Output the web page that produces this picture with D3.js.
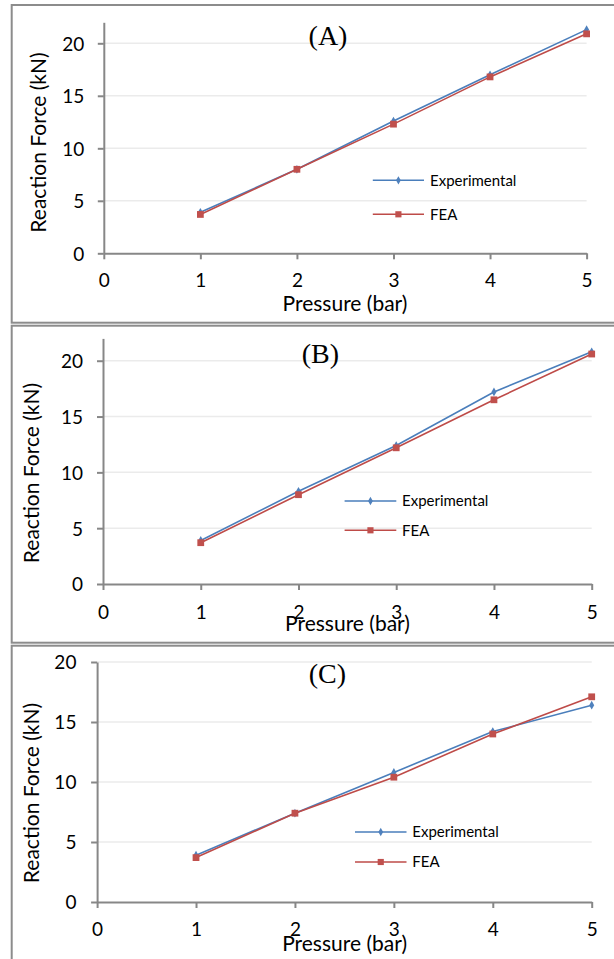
<html>
<head>
<meta charset="utf-8">
<script src="https://d3js.org/d3.v7.min.js"></script>
<style>
body {
	margin: 0;
	background: #fff;
}
svg text {
	font-family: Lato, "Open Sans", sans-serif;
	fill: #000;
}
</style>
</head>
<body>

<svg id="chart" width="614" height="959"></svg>

<script>

var pressure = [1, 2, 3, 4, 5]
var xTicks = [0, 1, 2, 3, 4, 5]
var yTicks = [0, 5, 10, 15, 20]
var seriesNames = ["Experimental", "FEA"]
var panelNames = ["(A)", "(B)", "(C)"]

var expA = [3.9, 8.0, 12.6, 17.0, 21.3]
var feaA = [3.7, 8.0, 12.3, 16.8, 20.9]
var expB = [3.9, 8.3, 12.4, 17.2, 20.8]
var feaB = [3.7, 8.0, 12.2, 16.5, 20.6]
var expC = [3.9, 7.4, 10.8, 14.2, 16.4]
var feaC = [3.7, 7.4, 10.4, 14.0, 17.1]

var yMax = [22, 22, 20]

// pixel layout of each panel
var layout = [
	{box: [5, 322.7], x: [103.8, 586.6], y: [253.3, 22.3], title: [328, 45], tickLab: 34, yLab: 84.2, yTitle: [38.6, 142.5], xTitle: [345, 311], legend: [372.8, 424, 430, 180.3, 214.3]},
	{box: [325.7, 642.7], x: [103, 591.7], y: [584, 338.4], title: [320.3, 363], tickLab: 35, yLab: 83, yTitle: [31.3, 473], xTitle: [347.5, 631], legend: [344.6, 396.3, 402, 501, 530.3]},
	{box: [645.7, 965], x: [97.1, 591.7], y: [902, 662], title: [327.4, 683], tickLab: 34, yLab: 76.4, yTitle: [31.5, 793], xTitle: [344.6, 951], legend: [355, 406.5, 412.3, 832, 862]}
]

var series = [[expA, feaA], [expB, feaB], [expC, feaC]]

var colors = ["#4a7ebb", "#be4b48"]
var markFill = ["#4f81bd", "#c0504d"]

var svg = d3.select("#chart")

series.forEach(function(s, i) {
	var L = layout[i]
	var g = svg.append("g")

	g.append("rect")
		.attr("x", 11.7).attr("y", L.box[0])
		.attr("width", 640).attr("height", L.box[1] - L.box[0])
		.attr("fill", "none").attr("stroke", "#8c8c8c").attr("stroke-width", 2)

	var x = d3.scaleLinear().domain([0, 5]).range(L.x)
	var y = d3.scaleLinear().domain([0, yMax[i]]).range(L.y)

	g.selectAll(".grid")
		.data(yTicks.filter(d => d > 0))
	.enter().append("line")
		.attr("x1", x(0)).attr("x2", x(5))
		.attr("y1", d => y(d)).attr("y2", d => y(d))
		.attr("stroke", "#ebebeb").attr("stroke-width", 1.5)

	var yAxis = g.append("g")
		.attr("transform", `translate(${x(0)},0)`)
		.call(d3.axisLeft(y).tickValues(yTicks).tickFormat(d3.format("d")).tickSize(6).tickSizeOuter(0))
	var xAxis = g.append("g")
		.attr("transform", `translate(0,${y(0)})`)
		.call(d3.axisBottom(x).tickValues(xTicks).tickFormat(d3.format("d")).tickSize(6).tickSizeOuter(0))

	g.selectAll(".domain, .tick line")
		.attr("stroke", "#878787").attr("stroke-width", 2)

	yAxis.selectAll("text")
		.attr("x", L.yLab - x(0))
		.attr("dy", "0.36em")
		.style("font-size", "19px")

	xAxis.selectAll("text")
		.attr("y", L.tickLab)
		.attr("dy", 0)
		.style("font-size", "19px")

	g.append("text")
		.attr("transform", `translate(${L.yTitle[0]},${L.yTitle[1]}) rotate(-90)`)
		.attr("text-anchor", "middle")
		.attr("dy", "0.35em")
		.style("font-size", "21px")
		.text("Reaction Force (kN)")

	g.append("text")
		.attr("x", L.xTitle[0]).attr("y", L.xTitle[1])
		.attr("text-anchor", "middle")
		.style("font-size", "21px")
		.text("Pressure (bar)")

	g.append("text")
		.attr("x", L.title[0]).attr("y", L.title[1])
		.attr("text-anchor", "middle")
		.style("font-family", "'Liberation Serif', serif")
		.style("font-size", "28px")
		.text(panelNames[i])

	var line = d3.line()
		.x((d, j) => x(pressure[j]))
		.y(d => y(d))

	s.forEach(function(vals, k) {
		g.append("path")
			.datum(vals)
			.attr("fill", "none")
			.attr("stroke", colors[k])
			.attr("stroke-width", 1.6)
			.attr("d", line)

		var sym = k == 0 ? d3.symbolDiamond : d3.symbolSquare
		var size = k == 0 ? 22 : 46

		g.selectAll(".m" + k)
			.data(vals)
		.enter().append("path")
			.attr("transform", (d, j) => `translate(${x(pressure[j])},${y(d)})`)
			.attr("d", d3.symbol().type(sym).size(size))
			.attr("fill", markFill[k])

		var ly = L.legend[3 + k]
		g.append("line")
			.attr("x1", L.legend[0]).attr("x2", L.legend[1])
			.attr("y1", ly).attr("y2", ly)
			.attr("stroke", colors[k]).attr("stroke-width", 1.6)
		g.append("path")
			.attr("transform", `translate(${(L.legend[0] + L.legend[1]) / 2},${ly})`)
			.attr("d", d3.symbol().type(sym).size(k == 0 ? 20 : 38))
			.attr("fill", markFill[k])
		g.append("text")
			.attr("x", L.legend[2]).attr("y", ly)
			.attr("dy", "0.36em")
			.style("font-size", "15px")
			.text(seriesNames[k])
	})
})

</script>

</body>
</html>
